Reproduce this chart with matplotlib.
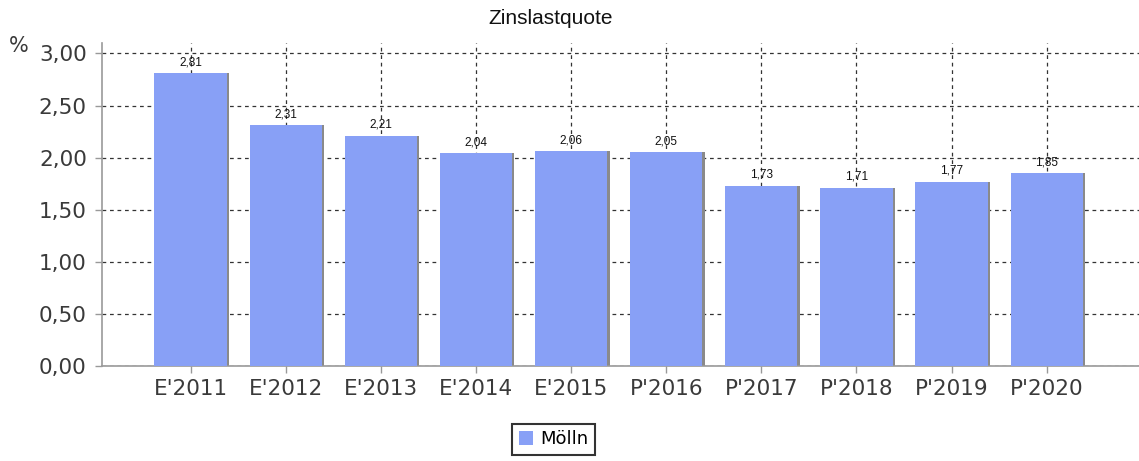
import numpy as np
from matplotlib import pyplot as plt
from matplotlib.patches import Patch

categories = ["E'2011", "E'2012", "E'2013", "E'2014", "E'2015",
              "P'2016", "P'2017", "P'2018", "P'2019", "P'2020"]
values = [2.81, 2.31, 2.21, 2.04, 2.06, 2.05, 1.73, 1.71, 1.77, 1.85]
yticks = [0.0, 0.5, 1.0, 1.5, 2.0, 2.5, 3.0]
series_name = "Mölln"
title = "Zinslastquote"

barColor = "#88a0f6"

fig = plt.figure(figsize=(11.39, 4.61), dpi=100)
ax = fig.add_axes([0.0896, 0.206, 0.9104, 0.7007])

x = np.arange(len(categories))
# small grey shadow on the right side of every bar
ax.bar(x + 0.025, values, width=0.76, color="#8a8a8a", zorder=2)
ax.bar(x, values, width=0.76, color=barColor, zorder=3)

for xi, v in zip(x, values):
    ax.text(xi, v + 0.05, f"{v:.2f}".replace(".", ","), ha="center", va="bottom",
            fontsize=8.5, family="Liberation Sans", color="#111111", zorder=4)

ax.set_xlim(-0.93, 9.97)
ax.set_ylim(0, 3.1)
ax.set_xticks(x)
ax.set_xticklabels(categories)
ax.set_yticks(yticks)
ax.set_yticklabels([f"{t:.2f}".replace(".", ",") for t in yticks])

ax.tick_params(axis="both", labelsize=15.5, labelcolor="#3a3a3a", color="#999999",
               length=5, width=1)
ax.tick_params(axis="x", pad=4)
ax.tick_params(axis="y", pad=6)

ax.grid(True, color="#333333", linestyle=(0, (3, 3)), linewidth=0.9, zorder=1)
ax.set_axisbelow(True)

for side in ["top", "right"]:
    ax.spines[side].set_visible(False)
for side in ["left", "bottom"]:
    ax.spines[side].set_color("#999999")
    ax.spines[side].set_linewidth(1.2)

fig.text(0.483, 0.96, title, ha="center", va="center", fontsize=15,
         family="Liberation Sans", color="#111111")
fig.text(0.008, 0.9, "%", ha="left", va="center", fontsize=15, color="#3a3a3a")

leg = fig.legend(handles=[Patch(facecolor=barColor, edgecolor="none", label=series_name)],
                 loc="center", bbox_to_anchor=(0.486, 0.047), frameon=True,
                 fancybox=False, fontsize=13, handlelength=0.8, handleheight=0.8,
                 handletextpad=0.4, borderpad=0.35, borderaxespad=0)
leg.get_frame().set_edgecolor("black")
leg.get_frame().set_linewidth(1.5)

fig.savefig("out.png", dpi=100)
